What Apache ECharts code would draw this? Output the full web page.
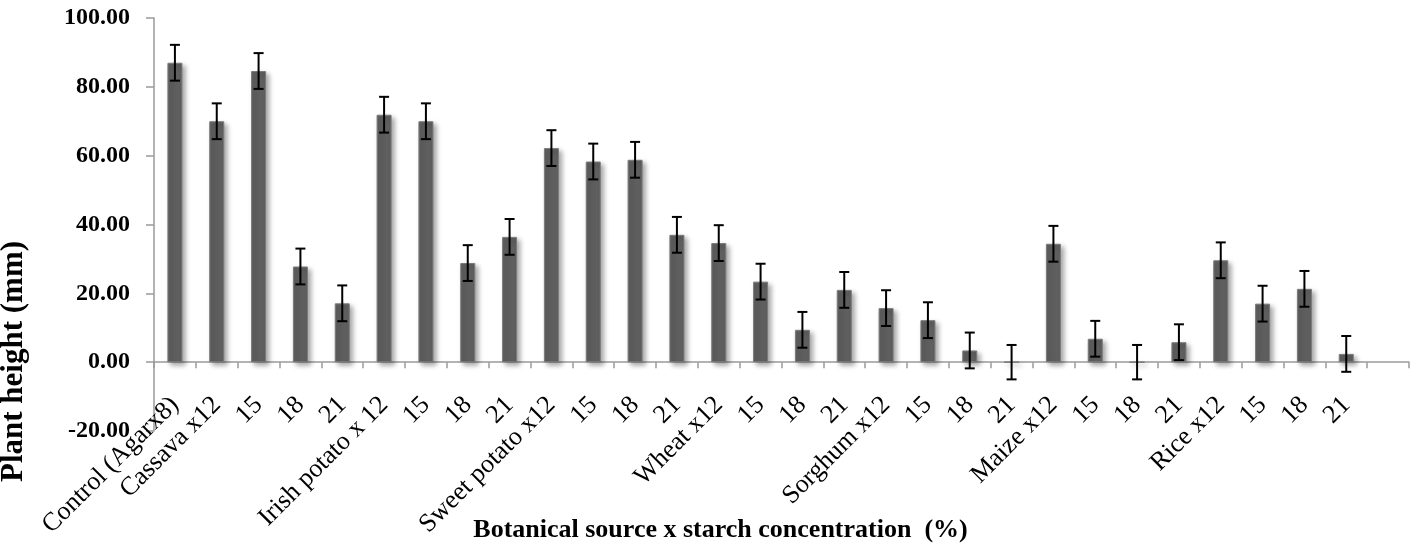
<!DOCTYPE html>
<html>
<head>
<meta charset="utf-8">
<script src="https://cdn.jsdelivr.net/npm/echarts@6/dist/echarts.min.js"></script>
<style>
html,body{margin:0;padding:0;background:#fff;}
#chart{width:1416px;height:543px;}
</style>
</head>
<body>
<div id="chart"></div>
<script>
var categories = ['Control (Agarx8)','Cassava x12','15','18','21','Irish potato x 12','15','18','21','Sweet potato x12','15','18','21','Wheat x12','15','18','21','Sorghum x12','15','18','21','Maize x12','15','18','21','Rice x12','15','18','21',''];
var heights = [87.0,70.0,84.6,27.8,17.1,71.9,70.0,28.8,36.4,62.2,58.3,58.8,37.0,34.6,23.4,9.4,21.0,15.7,12.2,3.4,0.0,34.4,6.8,0.0,5.8,29.6,17.0,21.3,2.4,null];
var errors = [5.2,5.2,5.2,5.2,5.2,5.2,5.2,5.2,5.2,5.2,5.2,5.2,5.2,5.2,5.2,5.2,5.2,5.2,5.2,5.2,5.0,5.2,5.2,5.0,5.2,5.2,5.2,5.2,5.2,null];
var yTicks = {min:-20, max:100, interval:20};

var errData = [];
for (var i = 0; i < categories.length; i++) {
  if (heights[i] !== null) errData.push([i, heights[i], errors[i]]);
}

var chart = echarts.init(document.getElementById('chart'));
chart.setOption({
  animation:false,
  backgroundColor:'#fff',
  grid:{left:154,right:7,top:18,bottom:112,containLabel:false,outerBoundsMode:'none'},
  xAxis:{
    type:'category',
    data:categories,
    name:'Botanical source x starch concentration  (%)',
    nameLocation:'middle',
    nameGap:86,
    nameMoveOverlap:false,
    nameTextStyle:{fontFamily:'Liberation Serif',fontWeight:'bold',fontSize:26,color:'#000',padding:[0,122,0,0]},
    axisLine:{onZero:true,lineStyle:{color:'#9a9a9a',width:1.5}},
    axisTick:{show:true,length:6,lineStyle:{color:'#9a9a9a',width:1.5}},
    axisLabel:{rotate:45,interval:0,margin:-30,fontFamily:'Liberation Serif',fontSize:26,color:'#000'},
    splitLine:{show:false}
  },
  yAxis:{
    type:'value',
    min:yTicks.min,max:yTicks.max,interval:yTicks.interval,
    name:'Plant height (mm)',
    nameLocation:'middle',
    nameGap:125,
    nameRotate:90,
    nameMoveOverlap:false,
    nameTextStyle:{fontFamily:'Liberation Serif',fontWeight:'bold',fontSize:31,color:'#000',padding:[0,274,0,0]},
    axisLine:{show:true,lineStyle:{color:'#9a9a9a',width:1.5}},
    axisTick:{show:true,length:8,lineStyle:{color:'#9a9a9a',width:1.5}},
    axisLabel:{margin:24,fontFamily:'Liberation Serif',fontWeight:'bold',fontSize:24,color:'#000',
      formatter:function(v){return v.toFixed(2);}},
    splitLine:{show:false}
  },
  series:[
    {
      type:'bar',
      data:heights,
      barWidth:15,
      itemStyle:{color:'#5f5f5f',borderColor:'#7a7a7a',borderWidth:1,
        shadowColor:'rgba(0,0,0,0.35)',shadowBlur:5,shadowOffsetX:3,shadowOffsetY:3}
    },
    {
      type:'custom',
      data:errData,
      z:5,
      renderItem:function(params, api){
        var x = api.value(0), v = api.value(1), e = api.value(2);
        var top = api.coord([x, v + e]);
        var bot = api.coord([x, v - e]);
        var hw = 5;
        var st = {stroke:'#000', lineWidth:2};
        return {type:'group', children:[
          {type:'line', shape:{x1:top[0],y1:top[1],x2:bot[0],y2:bot[1]}, style:st},
          {type:'line', shape:{x1:top[0]-hw,y1:top[1],x2:top[0]+hw,y2:top[1]}, style:st},
          {type:'line', shape:{x1:bot[0]-hw,y1:bot[1],x2:bot[0]+hw,y2:bot[1]}, style:st}
        ]};
      }
    }
  ]
});
</script>
</body>
</html>
